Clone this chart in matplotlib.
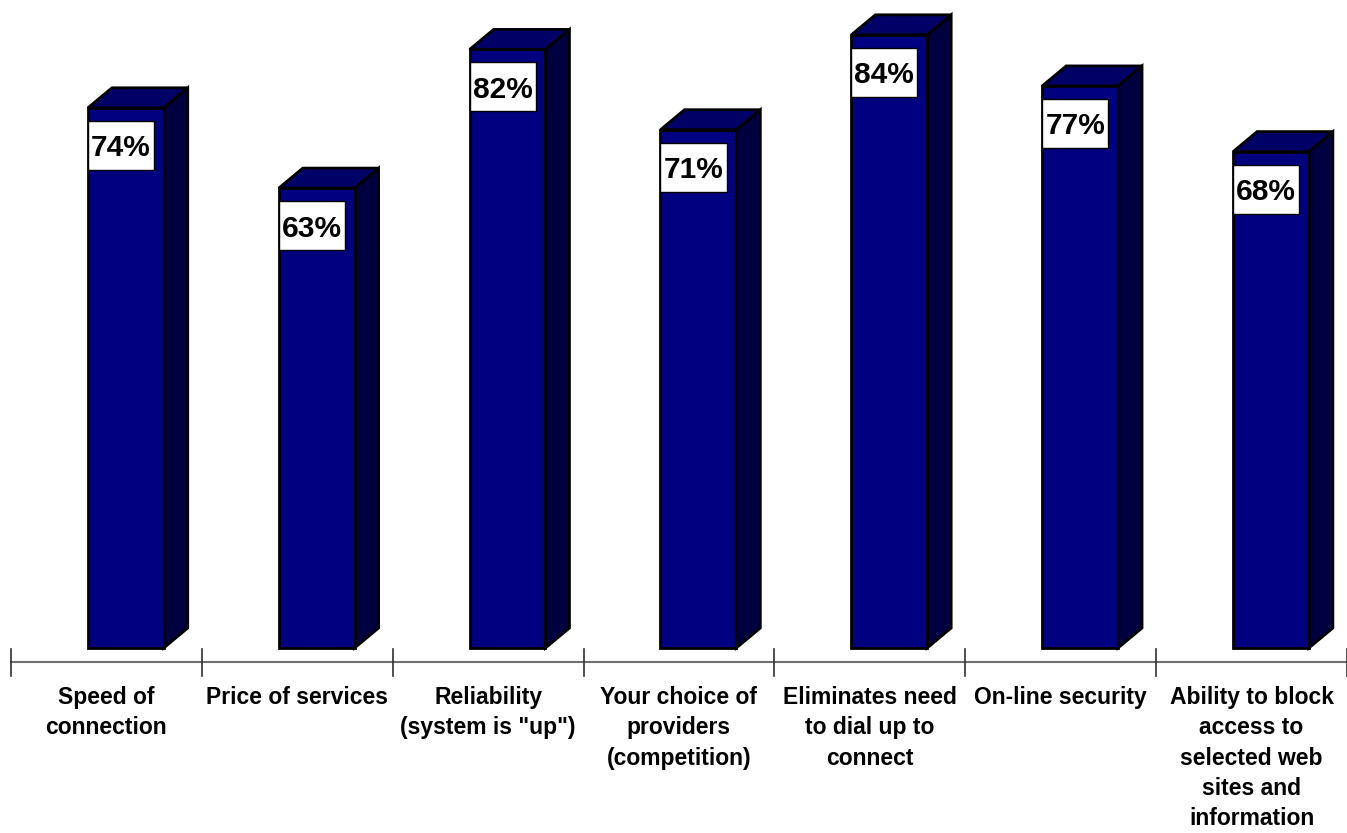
import matplotlib.pyplot as plt
from matplotlib.patches import Polygon, Rectangle

plt.rcParams['font.family'] = ['Liberation Sans', 'DejaVu Sans']

categories = ["Speed of\nconnection", "Price of services", "Reliability\n(system is \"up\")",
              "Your choice of\nproviders\n(competition)", "Eliminates need\nto dial up to\nconnect",
              "On-line security", "Ability to block\naccess to\nselected web\nsites and\ninformation"]
values = [74, 63, 82, 71, 84, 77, 68]
labels = ["74%", "63%", "82%", "71%", "84%", "77%", "68%"]

front_col = "#000080"
top_col = "#000066"
side_col = "#000040"

fig = plt.figure(figsize=(13.47, 8.33), dpi=100)
ax = fig.add_axes([11 / 1347, 0, 1336 / 1347, 1])
ax.set_xlim(0, 7)
ax.set_ylim(-25.34, 88.77)
ax.axis("off")

x0, x1 = 0.403, 0.80   # front face within a category slot
dx, dy = 0.126, 2.74   # 3d depth offset
bw, bh, bgap = 0.346, 6.71, 1.78  # label box size / gap below top

for i, v in enumerate(values):
    l, r = i + x0, i + x1
    front = Polygon([(l, 0), (r, 0), (r, v), (l, v)], closed=True,
                    facecolor=front_col, edgecolor="black", lw=2, joinstyle="miter")
    top = Polygon([(l, v), (r, v), (r + dx, v + dy), (l + dx, v + dy)], closed=True,
                  facecolor=top_col, edgecolor="black", lw=2, joinstyle="miter")
    side = Polygon([(r, 0), (r + dx, dy), (r + dx, v + dy), (r, v)], closed=True,
                   facecolor=side_col, edgecolor="black", lw=2, joinstyle="miter")
    for p in (side, top, front):
        p.set_clip_on(False)
        ax.add_patch(p)
    box = Rectangle((l, v - bgap - bh), bw, bh, facecolor="white",
                    edgecolor="black", lw=1, clip_on=False)
    ax.add_patch(box)
    ax.text(l + bw / 2, v - bgap - bh / 2, labels[i], ha="center", va="center_baseline",
            fontsize=21.5, fontweight="bold", color="black")

# category axis
ax.plot([0, 7], [-1.95, -1.95], color="#707070", lw=1.5, clip_on=False)
for i in range(8):
    ax.plot([i, i], [-0.1, -3.8], color="#303030", lw=1.2, clip_on=False)

for i, c in enumerate(categories):
    ax.text(i + 0.5, -5.2, c, ha="center", va="top", fontsize=16.5,
            fontweight="bold", linespacing=1.41)

fig.savefig("out.png", dpi=100)
